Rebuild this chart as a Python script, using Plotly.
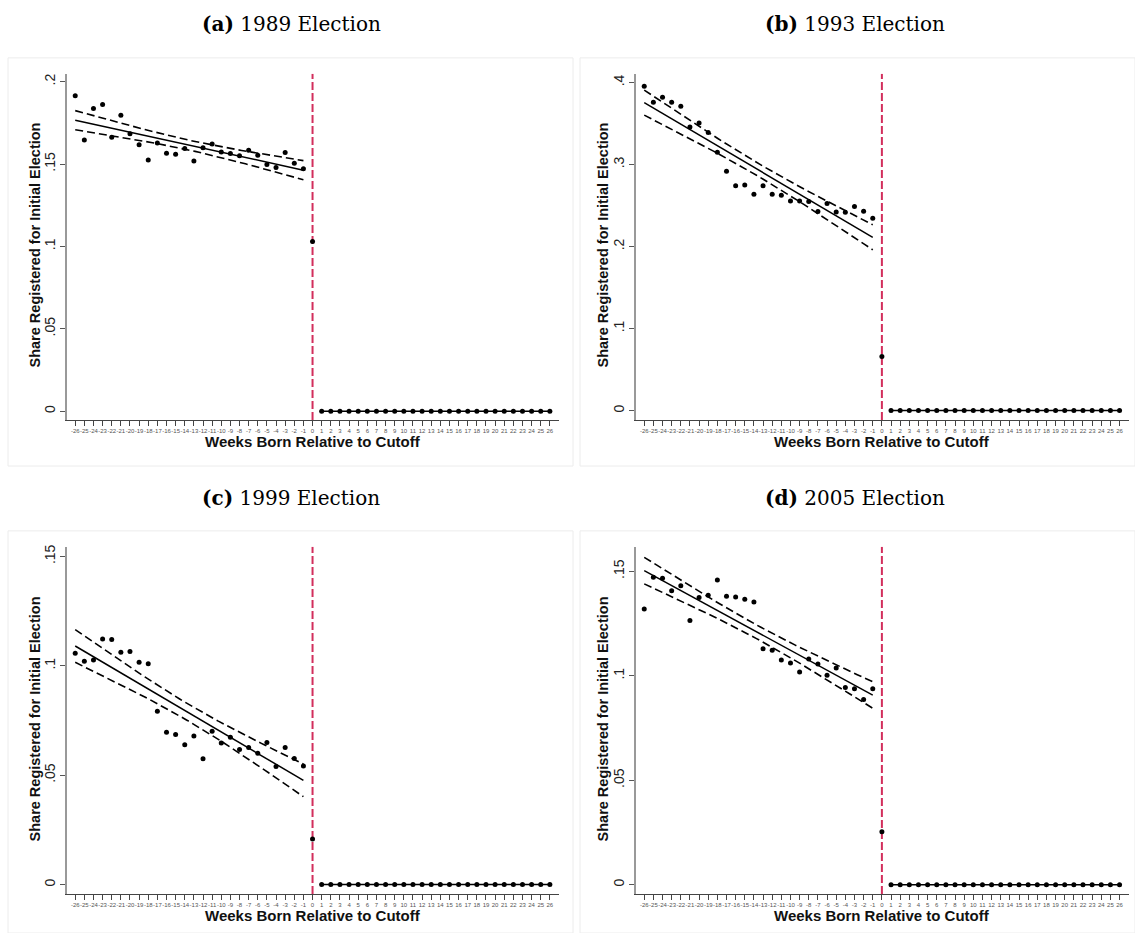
import numpy as np
import plotly.graph_objects as go

# ---------------- data ----------------
weeks_pre = list(range(-26, 0))
weeks_post = list(range(1, 27))
week_cut = 0

share_1989 = [0.1915, 0.1647, 0.1838, 0.1862, 0.1663, 0.1796, 0.1685, 0.1618, 0.1525, 0.1628,
              0.1566, 0.1560, 0.1594, 0.1519, 0.1600, 0.1622, 0.1574, 0.1564, 0.1550, 0.1584,
              0.1553, 0.1497, 0.1479, 0.1570, 0.1505, 0.1471]
cut_1989 = 0.103

share_1993 = [0.3956, 0.3760, 0.3820, 0.3760, 0.3710, 0.3457, 0.3506, 0.3390, 0.3150, 0.2920,
              0.2743, 0.2750, 0.2637, 0.2743, 0.2637, 0.2625, 0.2557, 0.2557, 0.2549, 0.2427,
              0.2524, 0.2423, 0.2419, 0.2488, 0.2430, 0.2346]
cut_1993 = 0.066

share_1999 = [0.1057, 0.1021, 0.1027, 0.1123, 0.1120, 0.1062, 0.1066, 0.1016, 0.1010, 0.0793,
              0.0697, 0.0686, 0.0639, 0.0679, 0.0575, 0.0701, 0.0647, 0.0674, 0.0618, 0.0627,
              0.0601, 0.0650, 0.0540, 0.0627, 0.0577, 0.0542]
cut_1999 = 0.0209

share_2005 = [0.1319, 0.1472, 0.1467, 0.1407, 0.1431, 0.1265, 0.1375, 0.1385, 0.1458, 0.1380,
              0.1377, 0.1366, 0.1353, 0.1129, 0.1122, 0.1075, 0.1061, 0.1018, 0.1080, 0.1056,
              0.1003, 0.1037, 0.0944, 0.0938, 0.0887, 0.0938]
cut_2005 = 0.0254

share_post = [0.0] * 26

titles = ["<b>(a)</b> 1989 Election", "<b>(b)</b> 1993 Election",
          "<b>(c)</b> 1999 Election", "<b>(d)</b> 2005 Election"]
ytick_vals = [[0, 0.05, 0.1, 0.15, 0.2], [0, 0.1, 0.2, 0.3, 0.4],
              [0, 0.05, 0.1, 0.15], [0, 0.05, 0.1, 0.15]]
ytick_text = [["0", ".05", ".1", ".15", ".2"], ["0", ".1", ".2", ".3", ".4"],
              ["0", ".05", ".1", ".15"], ["0", ".05", ".1", ".15"]]
xtick_vals = list(range(-26, 27))
ytitle = "Share Registered for Initial Election"
xtitle = "Weeks Born Relative to Cutoff"

panels = [
    (share_1989, cut_1989, [-0.00545, 0.2048]),
    (share_1993, cut_1993, [-0.01156, 0.4106]),
    (share_1999, cut_1999, [-0.00433, 0.1544]),
    (share_2005, cut_2005, [-0.00445, 0.1617]),
]

# ---------------- layout geometry (pixels) ----------------
W, H = 1135, 933
xdom_px = [(67, 559), (636, 1128.7), (67, 559), (636, 1128.7)]
ydom_px = [(72, 419), (72, 419), (546, 894), (546, 894)]
title_px = [(291, 22), (855, 22), (291, 497), (855, 497)]
ytitle_px = [(35, 244), (603, 244), (35, 719), (603, 719)]
xtitle_px = [(313, 440), (882, 440), (313, 915), (882, 915)]
frames_px = [(8, 56, 573, 465), (580, 56, 1135, 465), (8, 530, 573, 933), (580, 530, 1135, 933)]

fig = go.Figure()
annotations = []
shapes = []

RED = "#d22e5c"

for i, (vals, cut, yr) in enumerate(panels):
    xa = "x" if i == 0 else f"x{i+1}"
    ya = "y" if i == 0 else f"y{i+1}"
    xs = np.array(weeks_pre, dtype=float)
    ys = np.array(vals, dtype=float)
    # linear fit with 95% CI (as in Stata lfitci)
    b, a = np.polyfit(xs, ys, 1)
    n = len(xs)
    resid = ys - (a + b * xs)
    s = np.sqrt(np.sum(resid ** 2) / (n - 2))
    sxx = np.sum((xs - xs.mean()) ** 2)
    grid = np.linspace(xs.min(), xs.max(), 60)
    fit = a + b * grid
    se = s * np.sqrt(1.0 / n + (grid - xs.mean()) ** 2 / sxx)
    tcrit = 2.064
    for band in (fit + tcrit * se, fit - tcrit * se):
        fig.add_trace(go.Scatter(x=grid, y=band, mode="lines",
                                 line=dict(color="black", width=1.6, dash="8px,4px"),
                                 xaxis=xa, yaxis=ya, showlegend=False, hoverinfo="skip"))
    fig.add_trace(go.Scatter(x=grid, y=fit, mode="lines",
                             line=dict(color="black", width=1.5),
                             xaxis=xa, yaxis=ya, showlegend=False, hoverinfo="skip"))
    # red cutoff line
    fig.add_trace(go.Scatter(x=[week_cut, week_cut], y=[yr[0], yr[1]], mode="lines",
                             line=dict(color=RED, width=2, dash="8px,3px"),
                             xaxis=xa, yaxis=ya, showlegend=False, hoverinfo="skip"))
    # points
    fig.add_trace(go.Scatter(x=weeks_pre + [week_cut], y=vals + [cut], mode="markers",
                             marker=dict(color="black", size=5),
                             xaxis=xa, yaxis=ya, showlegend=False))
    fig.add_trace(go.Scatter(x=weeks_post, y=share_post, mode="lines+markers",
                             marker=dict(color="black", size=5),
                             line=dict(color="black", width=1.5),
                             xaxis=xa, yaxis=ya, showlegend=False))

    x0, x1 = xdom_px[i]
    yt, yb = ydom_px[i]
    xkey = "xaxis" if i == 0 else f"xaxis{i+1}"
    ykey = "yaxis" if i == 0 else f"yaxis{i+1}"
    fig.layout[xkey] = dict(domain=[x0 / W, x1 / W], range=[-26.9, 27], anchor=ya,
                            tickmode="array", tickvals=xtick_vals,
                            ticktext=[str(v) for v in xtick_vals], tickangle=0,
                            tickfont=dict(family="Liberation Sans", size=6, color="#555"),
                            ticks="outside", ticklen=5, tickcolor="#444", tickwidth=1,
                            showline=True, linecolor="#444", linewidth=1.2,
                            showgrid=False, zeroline=False, fixedrange=True)
    fig.layout[ykey] = dict(domain=[1 - yb / H, 1 - yt / H], range=yr, anchor=xa,
                            tickmode="array", tickvals=ytick_vals[i], ticktext=ytick_text[i],
                            tickangle=-90,
                            tickfont=dict(family="Liberation Sans", size=14, color="#222"),
                            ticks="outside", ticklen=5, tickcolor="#555", tickwidth=1,
                            showline=True, linecolor="#999", linewidth=1.5,
                            showgrid=False, zeroline=False, fixedrange=True)

    tx, ty = title_px[i]
    annotations.append(dict(text=titles[i], x=tx / W, y=1 - ty / H, xref="paper", yref="paper",
                            showarrow=False, xanchor="center", yanchor="middle",
                            font=dict(family="DejaVu Serif", size=20, color="black")))
    ax_, ay_ = ytitle_px[i]
    annotations.append(dict(text=f"<b>{ytitle}</b>", x=ax_ / W, y=1 - ay_ / H,
                            xref="paper", yref="paper", textangle=-90, showarrow=False,
                            xanchor="center", yanchor="middle",
                            font=dict(family="Liberation Sans", size=14.5, color="#111")))
    bx, by = xtitle_px[i]
    annotations.append(dict(text=f"<b>{xtitle}</b>", x=bx / W, y=1 - by / H,
                            xref="paper", yref="paper", showarrow=False,
                            xanchor="center", yanchor="middle",
                            font=dict(family="Liberation Sans", size=15, color="#111")))
    fx0, fy0, fx1, fy1 = frames_px[i]
    shapes.append(dict(type="rect", xref="paper", yref="paper",
                       x0=fx0 / W, x1=fx1 / W, y0=1 - fy1 / H, y1=1 - fy0 / H,
                       line=dict(color="#ececec", width=1), layer="below"))

fig.update_layout(width=W, height=H, margin=dict(l=0, r=0, t=0, b=0),
                  paper_bgcolor="white", plot_bgcolor="white",
                  annotations=annotations, shapes=shapes, showlegend=False)

fig.write_html("out.html", config={"displayModeBar": False})
